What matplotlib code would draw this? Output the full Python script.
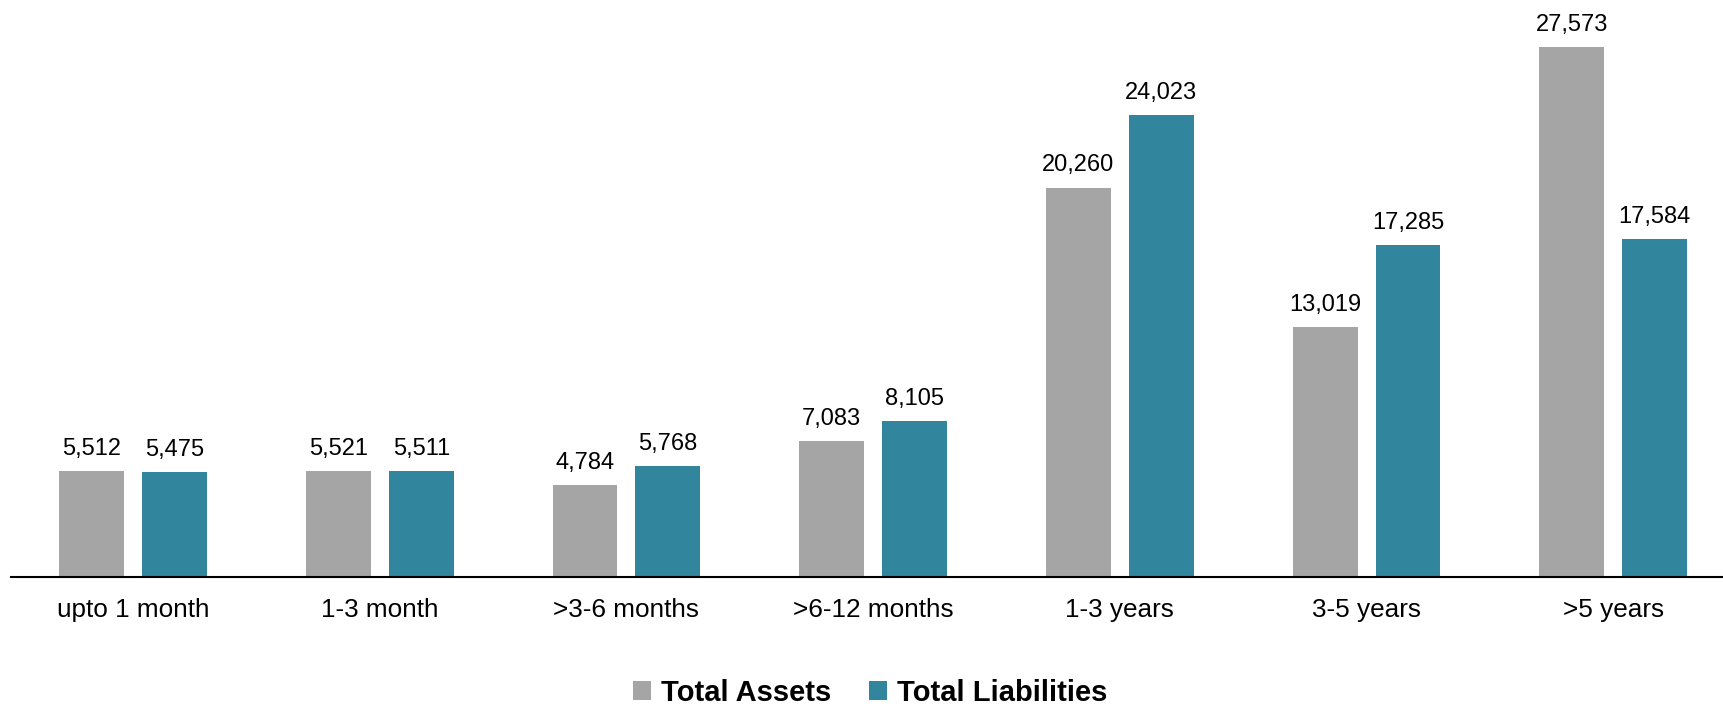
import matplotlib.pyplot as plt
import numpy as np

plt.rcParams['font.family'] = ['Liberation Sans', 'DejaVu Sans']

buckets = ['upto 1 month', '1-3 month', '>3-6 months', '>6-12 months',
           '1-3 years', '3-5 years', '>5 years']
total_assets = [5512, 5521, 4784, 7083, 20260, 13019, 27573]
total_liabilities = [5475, 5511, 5768, 8105, 24023, 17285, 17584]

gray = '#A5A5A5'
teal = '#31859C'

fig = plt.figure(figsize=(17.23, 7.06), dpi=100)
ax = fig.add_axes([11 / 1723, 129 / 706, 1 - 11 / 1723, 577 / 706])

x = np.arange(len(buckets))
w = 0.263
off = 0.168
b1 = ax.bar(x - off, total_assets, w, color=gray, label='Total Assets')
b2 = ax.bar(x + off, total_liabilities, w, color=teal, label='Total Liabilities')

for bars in (b1, b2):
    ax.bar_label(bars, labels=[f'{v:,}' for v in bars.datavalues],
                 padding=8, fontsize=17, color='black')

ax.set_xlim(-0.495, 6.445)
ax.set_ylim(0, 577 / 0.01922)
ax.set_xticks(x)
ax.set_xticklabels(buckets, fontsize=18.8)
ax.tick_params(axis='x', length=0, pad=15)
ax.set_yticks([])
for side in ('top', 'right', 'left'):
    ax.spines[side].set_visible(False)
ax.spines['bottom'].set_linewidth(1.5)

fig.legend(loc='center', bbox_to_anchor=(0.505, 1 - 693 / 706), ncol=2,
           frameon=False, prop={'size': 21, 'weight': 'bold'},
           handlelength=0.6, handleheight=0.6, handletextpad=0.35,
           columnspacing=1.3)

fig.savefig('out.png', dpi=100)
